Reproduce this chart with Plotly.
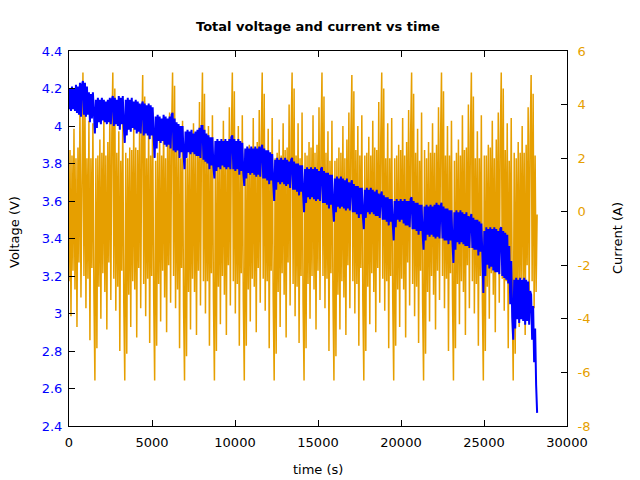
import plotly.graph_objects as go

# ---------------- data ----------------
SAMPLE_STEP_S = 60

# current (A), one list per ~1800 s drive cycle (first list is the partial lead-in)
current_lead = [-2.6, 2.3, -3.9, 2.1, -2.2, 3.1, -2.9, 2.0, -4.3, 2.4, -1.9, 4.1, -3.2,
                2.6, 5.2, -2.4, 4.2, -3.6, 2.0, -2.5, 3.4, -4.8, 2.0, -2.1, 3.3, -3.0]
current_cycles = [
    [-6.3, 2.0, -5.1, 2.1, -2.8, 2.7, -4.0, 2.2, -2.3, 3.6, -3.0, 2.1, -4.4, 2.6, -1.9, 3.8, -3.3, 2.9, 5.2, -2.5, 4.6, -3.7, 2.2, -2.8, 3.0, -5.2, 1.9, -2.2, 3.5, -3.4],
    [-6.3, 2.2, -5.3, 2.0, -3.1, 2.4, -4.3, 2.3, -2.6, 3.2, -2.9, 2.4, -4.7, 2.3, -2.1, 4.0, -3.6, 2.5, 5.1, -2.7, 4.3, -3.9, 2.0, -2.5, 3.3, -4.9, 2.1, -2.4, 3.7, -3.1],
    [-6.3, 1.9, -5.0, 2.2, -2.7, 2.8, -4.1, 2.1, -2.2, 3.5, -3.2, 2.0, -4.5, 2.7, -2.0, 3.7, -3.4, 3.0, 5.2, -2.4, 4.7, -3.6, 2.3, -2.9, 2.9, -5.1, 2.0, -2.1, 3.4, -3.5],
    [-6.3, 2.1, -5.4, 2.0, -3.0, 2.5, -4.4, 2.4, -2.5, 3.3, -3.0, 2.3, -4.6, 2.4, -2.2, 4.1, -3.5, 2.6, 5.2, -2.6, 4.4, -3.8, 2.1, -2.6, 3.2, -5.0, 2.0, -2.3, 3.6, -3.2],
    [-6.3, 2.0, -5.2, 2.1, -2.8, 2.6, -4.2, 2.2, -2.4, 3.4, -3.1, 2.2, -4.6, 2.5, -2.0, 3.9, -3.5, 2.8, 5.2, -2.6, 4.5, -3.8, 2.2, -2.7, 3.2, -5.0, 1.9, -2.3, 3.6, -3.3],
    [-6.3, 2.3, -5.0, 2.0, -2.9, 2.5, -4.1, 2.3, -2.5, 3.5, -2.8, 2.1, -4.5, 2.6, -2.1, 3.8, -3.4, 2.7, 5.2, -2.5, 4.4, -3.7, 2.0, -2.6, 3.1, -5.1, 2.1, -2.2, 3.5, -3.2],
    [-6.3, 2.0, -5.3, 2.2, -3.0, 2.7, -4.3, 2.1, -2.3, 3.3, -3.1, 2.3, -4.7, 2.4, -1.9, 4.0, -3.5, 2.9, 5.2, -2.7, 4.6, -3.9, 2.1, -2.8, 3.3, -4.9, 2.0, -2.4, 3.7, -3.4],
    [-6.3, 2.2, -5.1, 2.1, -2.7, 2.6, -4.0, 2.4, -2.4, 3.6, -2.9, 2.2, -4.4, 2.5, -2.2, 3.9, -3.3, 2.6, 5.2, -2.4, 4.3, -3.6, 2.2, -2.5, 3.0, -5.2, 1.9, -2.3, 3.4, -3.1],
    [-6.3, 1.9, -5.4, 2.0, -3.1, 2.4, -4.4, 2.2, -2.6, 3.2, -3.2, 2.0, -4.6, 2.7, -2.0, 3.7, -3.6, 2.8, 5.1, -2.6, 4.5, -3.8, 2.3, -2.7, 3.2, -5.0, 2.1, -2.1, 3.6, -3.3],
    [-6.3, 2.1, -5.2, 2.2, -2.8, 2.8, -4.2, 2.1, -2.3, 3.4, -3.0, 2.4, -4.5, 2.3, -2.1, 4.1, -3.4, 2.7, 5.2, -2.5, 4.6, -3.7, 2.0, -2.6, 3.3, -5.1, 2.0, -2.4, 3.5, -3.2],
    [-6.3, 2.0, -5.0, 2.1, -2.9, 2.5, -4.3, 2.3, -2.5, 3.5, -2.9, 2.1, -4.7, 2.6, -1.9, 3.8, -3.5, 2.9, 5.2, -2.7, 4.4, -3.9, 2.2, -2.8, 3.1, -4.9, 1.9, -2.2, 3.7, -3.4],
    [-6.3, 2.3, -5.3, 2.0, -3.0, 2.6, -4.1, 2.2, -2.4, 3.3, -3.1, 2.2, -4.4, 2.5, -2.2, 3.9, -3.3, 2.6, 5.2, -2.4, 4.5, -3.6, 2.1, -2.5, 3.2, -5.2, 2.1, -2.3, 3.4, -3.1],
    [-6.3, 1.9, -5.1, 2.2, -2.7, 2.7, -4.2, 2.1, -2.6, 3.6, -3.0, 2.3, -4.6, 2.4, -2.0, 4.0, -3.6, 2.8, 5.2, -2.6, 4.3, -3.8, 2.0, -2.7, 3.0, -5.0, 2.0, -2.4, 3.6, -3.3],
    [-6.3, 2.1, -5.2, 2.1, -2.8, 2.5, -4.0, 2.4, -2.3, 3.4, -3.1, 2.0, -4.5, 2.7, -2.1, 3.7, -3.4, 2.7, 5.2, -2.5, 4.6, -3.7, 2.3, -2.6, 3.3, -5.1, 1.9, -2.2, 3.5, -3.2],
    [-6.3, 2.2, -5.3, 2.0, -2.9, 2.6, -4.3, 2.2, -2.5, 3.2, -2.9, 2.2, -4.6, 2.5, -2.0, 3.9, -3.5, 2.8, 5.1, -2.6, 4.4, -3.6, 2.1, -3.0, -0.1],
]

# voltage (V), same sampling as the current
voltage_lead = [4.09, 4.20, 4.08, 4.21, 4.09, 4.20, 4.08, 4.22, 4.07, 4.21, 4.06, 4.23, 4.05,
                4.22, 4.24, 4.06, 4.23, 4.05, 4.21, 4.06, 4.18, 4.02, 4.17, 4.04, 4.18, 4.03]
voltage_cycles = [
    [3.96, 4.14, 3.99, 4.15, 4.02, 4.14, 4.01, 4.15, 4.03, 4.14, 4.02, 4.13, 4.01, 4.14, 4.02, 4.15, 4.01, 4.14, 4.16, 4.00, 4.15, 4.01, 4.14, 4.00, 4.16, 3.98, 4.15, 4.01, 4.16, 4.00],
    [3.91, 4.14, 3.95, 4.15, 3.98, 4.14, 3.97, 4.15, 3.99, 4.13, 3.98, 4.14, 3.96, 4.13, 3.97, 4.12, 3.96, 4.11, 4.13, 3.95, 4.12, 3.96, 4.11, 3.95, 4.12, 3.93, 4.11, 3.95, 4.10, 3.94],
    [3.83, 4.05, 3.88, 4.06, 3.92, 4.05, 3.91, 4.04, 3.92, 4.06, 3.90, 4.05, 3.89, 4.04, 3.90, 4.05, 3.88, 4.06, 4.07, 3.87, 4.04, 3.86, 4.02, 3.87, 4.01, 3.83, 4.00, 3.86, 4.00, 3.85],
    [3.77, 3.97, 3.83, 3.98, 3.86, 3.97, 3.85, 3.98, 3.86, 3.96, 3.85, 3.97, 3.84, 3.98, 3.84, 3.99, 3.83, 4.00, 4.00, 3.82, 3.98, 3.81, 3.96, 3.80, 3.95, 3.77, 3.94, 3.79, 3.94, 3.78],
    [3.72, 3.92, 3.76, 3.93, 3.78, 3.92, 3.77, 3.93, 3.79, 3.92, 3.78, 3.93, 3.77, 3.92, 3.78, 3.93, 3.77, 3.94, 3.95, 3.77, 3.93, 3.76, 3.92, 3.77, 3.93, 3.74, 3.92, 3.76, 3.91, 3.75],
    [3.68, 3.88, 3.72, 3.89, 3.75, 3.88, 3.74, 3.89, 3.75, 3.88, 3.74, 3.89, 3.73, 3.88, 3.74, 3.89, 3.73, 3.88, 3.90, 3.72, 3.88, 3.72, 3.87, 3.71, 3.87, 3.69, 3.86, 3.71, 3.85, 3.70],
    [3.60, 3.82, 3.66, 3.83, 3.70, 3.82, 3.69, 3.83, 3.70, 3.82, 3.69, 3.83, 3.68, 3.82, 3.69, 3.81, 3.67, 3.82, 3.83, 3.66, 3.81, 3.66, 3.80, 3.65, 3.80, 3.63, 3.79, 3.65, 3.79, 3.64],
    [3.54, 3.77, 3.59, 3.78, 3.62, 3.77, 3.61, 3.78, 3.62, 3.77, 3.61, 3.78, 3.60, 3.77, 3.61, 3.76, 3.60, 3.77, 3.78, 3.59, 3.76, 3.59, 3.75, 3.58, 3.75, 3.56, 3.74, 3.58, 3.74, 3.57],
    [3.49, 3.72, 3.54, 3.73, 3.57, 3.72, 3.56, 3.73, 3.57, 3.72, 3.56, 3.71, 3.55, 3.72, 3.56, 3.70, 3.55, 3.69, 3.71, 3.54, 3.69, 3.54, 3.68, 3.53, 3.68, 3.51, 3.67, 3.53, 3.67, 3.52],
    [3.45, 3.66, 3.51, 3.67, 3.54, 3.66, 3.53, 3.67, 3.54, 3.66, 3.53, 3.65, 3.52, 3.66, 3.52, 3.64, 3.51, 3.63, 3.65, 3.50, 3.63, 3.50, 3.62, 3.49, 3.62, 3.47, 3.61, 3.49, 3.61, 3.48],
    [3.39, 3.60, 3.46, 3.61, 3.50, 3.60, 3.49, 3.61, 3.50, 3.60, 3.48, 3.61, 3.47, 3.60, 3.47, 3.60, 3.46, 3.61, 3.62, 3.45, 3.60, 3.45, 3.59, 3.44, 3.59, 3.42, 3.58, 3.44, 3.58, 3.43],
    [3.34, 3.57, 3.39, 3.58, 3.42, 3.57, 3.41, 3.58, 3.42, 3.57, 3.41, 3.58, 3.40, 3.59, 3.41, 3.58, 3.40, 3.57, 3.59, 3.40, 3.57, 3.39, 3.56, 3.39, 3.56, 3.37, 3.55, 3.39, 3.55, 3.38],
    [3.27, 3.54, 3.34, 3.55, 3.38, 3.54, 3.37, 3.55, 3.38, 3.54, 3.37, 3.53, 3.36, 3.54, 3.36, 3.52, 3.35, 3.51, 3.53, 3.35, 3.51, 3.34, 3.50, 3.34, 3.50, 3.31, 3.49, 3.33, 3.48, 3.32],
    [3.11, 3.44, 3.20, 3.46, 3.26, 3.45, 3.24, 3.46, 3.25, 3.45, 3.23, 3.46, 3.22, 3.45, 3.22, 3.44, 3.21, 3.45, 3.46, 3.20, 3.44, 3.19, 3.43, 3.18, 3.42, 3.16, 3.36, 3.05, 3.28, 2.98],
    [2.86, 3.18, 2.92, 3.19, 2.97, 3.18, 2.95, 3.19, 2.97, 3.18, 2.96, 3.19, 2.94, 3.18, 2.96, 3.17, 2.94, 3.12, 3.10, 2.86, 3.04, 2.74, 2.92, 2.62, 2.47],
]

x_tick_vals = [0, 5000, 10000, 15000, 20000, 25000, 30000]
x_tick_text = ["0", "5000", "10000", "15000", "20000", "25000", "30000"]
v_tick_vals = [2.4, 2.6, 2.8, 3.0, 3.2, 3.4, 3.6, 3.8, 4.0, 4.2, 4.4]
v_tick_text = ["2.4", "2.6", "2.8", "3", "3.2", "3.4", "3.6", "3.8", "4", "4.2", "4.4"]
i_tick_vals = [-8, -6, -4, -2, 0, 2, 4, 6]
i_tick_text = ["-8", "-6", "-4", "-2", "0", "2", "4", "6"]

current_A = current_lead + [v for c in current_cycles for v in c]
voltage_V = voltage_lead + [v for c in voltage_cycles for v in c]
assert len(current_A) == len(voltage_V), (len(current_A), len(voltage_V))
time_s = [SAMPLE_STEP_S * k for k in range(len(current_A))]

# ---------------- figure ----------------
BLUE = "#0000ff"
ORANGE = "#e69f00"
FONT = "DejaVu Sans"

fig = go.Figure()
# current on the base y axis (right side) so that voltage (overlaying axis) is drawn on top
fig.add_trace(go.Scatter(x=time_s, y=current_A, mode="lines", yaxis="y",
                         line=dict(color=ORANGE, width=1.5), showlegend=False, hoverinfo="skip"))
fig.add_trace(go.Scatter(x=time_s, y=voltage_V, mode="lines", yaxis="y2",
                         line=dict(color=BLUE, width=2), showlegend=False, hoverinfo="skip"))

L, R, T, B = 69, 73, 51, 54
W, H = 640, 480
pw, ph = W - L - R, H - T - B

def px_x(px):
    return (px - L) / pw

def px_y(py):
    return (H - B - py) / ph

axis_common = dict(showgrid=False, zeroline=False, showline=True, linecolor="black",
                   linewidth=1, ticks="inside", ticklen=6, tickcolor="black", tickwidth=1)

fig.update_layout(
    width=W, height=H,
    margin=dict(l=L, r=R, t=T, b=B, autoexpand=False),
    paper_bgcolor="white", plot_bgcolor="white",
    font=dict(family=FONT, size=13, color="black"),
    xaxis=dict(range=[0, 30000], tickvals=x_tick_vals, ticktext=x_tick_text,
               mirror="ticks", ticklabelstandoff=4,
               tickfont=dict(color="black", size=13), **axis_common),
    yaxis=dict(range=[-8, 6], tickvals=i_tick_vals, ticktext=i_tick_text, side="right",
               ticklabelstandoff=7, tickfont=dict(color=ORANGE, size=13), **axis_common),
    yaxis2=dict(range=[2.4, 4.4], tickvals=v_tick_vals, ticktext=v_tick_text, side="left",
                overlaying="y", ticklabelstandoff=3,
                tickfont=dict(color=BLUE, size=13), **axis_common),
    annotations=[
        dict(text="<b>Total voltage and current vs time</b>", xref="paper", yref="paper",
             x=px_x(318), y=px_y(27), showarrow=False, font=dict(size=13, color="black"),
             xanchor="center", yanchor="middle"),
        dict(text="time (s)", xref="paper", yref="paper", x=px_x(318), y=px_y(469),
             showarrow=False, xanchor="center", yanchor="middle", font=dict(size=13)),
        dict(text="Voltage (V)", xref="paper", yref="paper", x=px_x(14), y=px_y(232),
             showarrow=False, textangle=-90, xanchor="center", yanchor="middle", font=dict(size=13)),
        dict(text="Current (A)", xref="paper", yref="paper", x=px_x(617), y=px_y(238),
             showarrow=False, textangle=-90, xanchor="center", yanchor="middle", font=dict(size=13)),
    ],
)

fig.write_html("out.html", config={"displayModeBar": False},
               post_script="document.body.style.margin='0';")
